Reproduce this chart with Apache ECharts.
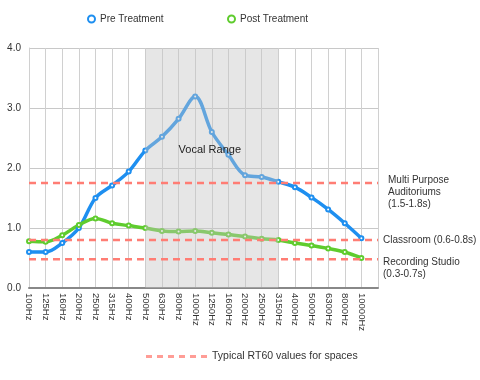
<!DOCTYPE html>
<html><head><meta charset="utf-8">
<script src="https://cdn.jsdelivr.net/npm/echarts@6/dist/echarts.min.js"></script>
<style>html,body{margin:0;padding:0;background:#fff}#c{width:480px;height:380px}</style>
</head><body><div id="c"></div>
<script>
var categories = ['100Hz','125Hz','160Hz','200Hz','250Hz','315Hz','400Hz','500Hz','630Hz','800Hz','1000Hz','1250Hz','1600Hz','2000Hz','2500Hz','3150Hz','4000Hz','5000Hz','6300Hz','8000Hz','10000Hz'];
var preTreatment = [0.6,0.6,0.75,1.0,1.5,1.71,1.94,2.29,2.52,2.82,3.19,2.6,2.22,1.88,1.85,1.77,1.68,1.51,1.31,1.08,0.83];
var postTreatment = [0.78,0.77,0.88,1.05,1.16,1.08,1.04,1.0,0.95,0.94,0.95,0.92,0.89,0.86,0.82,0.8,0.75,0.71,0.66,0.6,0.5];
var rt60Levels = [1.75, 0.8, 0.48];
var rt60Labels = ['Multi Purpose\nAuditoriums\n(1.5-1.8s)', 'Classroom (0.6-0.8s)', 'Recording Studio\n(0.3-0.7s)'];
var vocalRange = ['500Hz', '3150Hz'];
var yTicks = [0, 1, 2, 3, 4];

var font = 'Liberation Sans, Arial, sans-serif';
var nCat = categories.length; // last slot (index nCat) is empty
function toXY(arr){ return arr.map(function(v,i){ return [i, v]; }); }

var BLUE = '#1e8ff0', GREEN = '#5fcc2e', RED = '#ff7d74';
var labelOffsets = [[6, 9], [1, 0], [1, 9]];
var series = [
  {
    name: 'Pre Treatment', type: 'line', data: toXY(preTreatment), smooth: 0.35, z: 2,
    symbol: 'emptyCircle', symbolSize: 4, color: BLUE,
    lineStyle: { width: 3.5, color: BLUE },
    itemStyle: { color: BLUE, borderColor: BLUE, borderWidth: 1.2 }
  },
  {
    name: 'Post Treatment', type: 'line', data: toXY(postTreatment), smooth: 0.35, z: 2,
    symbol: 'emptyCircle', symbolSize: 4, color: GREEN,
    lineStyle: { width: 3.5, color: GREEN },
    itemStyle: { color: GREEN, borderColor: GREEN, borderWidth: 1.2 }
  },
  {
    name: 'vocal', type: 'line', data: [], silent: true,
    markArea: {
      z: 3, silent: true,
      itemStyle: { color: 'rgba(195,195,195,0.42)' },
      label: { show: true, position: 'inside', offset: [-2, -18], color: '#222', fontFamily: font, fontSize: 11, formatter: 'Vocal Range' },
      data: [[{ xAxis: categories.indexOf(vocalRange[0]) }, { xAxis: categories.indexOf(vocalRange[1]) }]]
    }
  }
];
rt60Levels.forEach(function(v, k){
  series.push({
    name: 'Typical RT60 values for spaces', type: 'line', z: 4, silent: true,
    data: [[0, v], [nCat, v]], symbol: 'none', color: RED,
    lineStyle: { type: [7, 5], width: 2.5, color: RED },
    endLabel: { show: true, formatter: rt60Labels[k], color: '#333', fontFamily: font, fontSize: 10, lineHeight: 12, offset: labelOffsets[k], distance: 4 }
  });
});

var dashIcon = 'path://M0,0h6v3h-6z M11,0h6v3h-6z M22,0h6v3h-6z M33,0h6v3h-6z M44,0h6v3h-6z M55,0h6v3h-6z';
var legendText = { fontFamily: font, fontSize: 10, color: '#333' };

var chart = echarts.init(document.getElementById('c'), null, { renderer: 'canvas' });
chart.setOption({
  animation: false,
  textStyle: { fontFamily: font },
  grid: { left: 29, right: 102, top: 48, bottom: 92 },
  legend: [
    { data: [{ name: 'Pre Treatment', icon: 'emptyCircle', itemStyle: { borderWidth: 2 } }], top: 9, left: 82, itemWidth: 7, itemHeight: 7, textStyle: legendText },
    { data: [{ name: 'Post Treatment', icon: 'emptyCircle', itemStyle: { borderWidth: 2 } }], top: 9, left: 222, itemWidth: 7, itemHeight: 7, textStyle: legendText },
    { data: [{ name: 'Typical RT60 values for spaces', icon: dashIcon, itemStyle: { color: '#ff9d96' } }],
      top: 346, left: 141, itemWidth: 61, itemHeight: 3, itemGap: 8,
      textStyle: { fontFamily: font, fontSize: 10.5, color: '#333' } }
  ],
  xAxis: {
    type: 'value', min: 0, max: nCat, interval: 1,
    axisLine: { show: true, lineStyle: { color: '#888', width: 2 } },
    axisTick: { show: false },
    splitLine: { show: true, lineStyle: { color: '#d0d0d0', width: 1 } },
    axisLabel: { rotate: -90, fontSize: 9.5, color: '#333', margin: 5, fontFamily: font,
      formatter: function(v){ return categories[v] || ''; } }
  },
  yAxis: {
    type: 'value', min: yTicks[0], max: yTicks[yTicks.length - 1], interval: 1,
    axisLine: { show: true, lineStyle: { color: '#d0d0d0', width: 1 } },
    axisTick: { show: false },
    splitLine: { show: true, lineStyle: { color: '#c8c8c8', width: 1 } },
    axisLabel: { fontSize: 10, color: '#333', margin: 8, fontFamily: font, formatter: function(v){ return v.toFixed(1); } }
  },
  series: series
});
</script>
</body></html>
